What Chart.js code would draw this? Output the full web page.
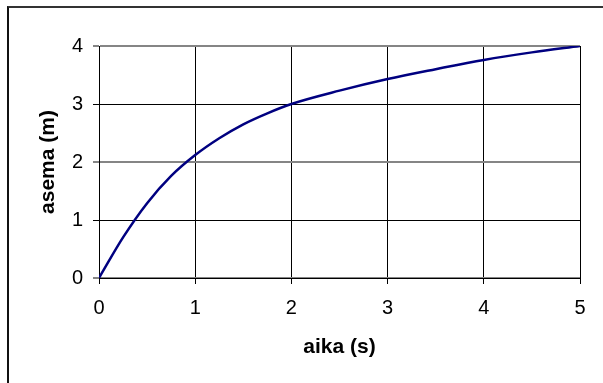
<!DOCTYPE html>
<html>
<head>
<meta charset="utf-8">
<script src="https://cdn.jsdelivr.net/npm/chart.js@4"></script>
<style>
  body { margin: 0; background: #fff; }
  #wrap { position: relative; width: 603px; height: 383px; overflow: hidden; }
  #kehys { position: absolute; left: 7px; top: 6px; width: 700px; height: 500px;
           border-left: 2px solid #111; border-top: 2px solid #333; }
  canvas { position: absolute; left: 0; top: 0; }
</style>
</head>
<body>
<div id="wrap">
  <div id="kehys"></div>
  <canvas id="kaavio" width="603" height="383"></canvas>
</div>
<script>
// aika (s) ja asema (m), luettu kuvasta
const aika = [0, 0.25, 0.5, 0.75, 1, 1.25, 1.5, 1.75, 2, 2.5, 3, 3.5, 4, 4.5, 5];
const asema = [0, 0.70, 1.29, 1.76, 2.12, 2.41, 2.65, 2.84, 3.0, 3.23, 3.43, 3.6, 3.76, 3.89, 4.0];

const xTicks = [0, 1, 2, 3, 4, 5];
const yTicks = [0, 1, 2, 3, 4];

const pisteet = aika.map((t, i) => ({ x: t, y: asema[i] }));

const fontti = { family: "'Liberation Sans', Arial, sans-serif", size: 20 };
const otsikkoFontti = { family: "'Liberation Sans', Arial, sans-serif", size: 21, weight: 'bold' };

new Chart(document.getElementById('kaavio'), {
  type: 'line',
  data: {
    datasets: [{
      data: pisteet,
      borderColor: '#000080',
      borderWidth: 2.5,
      pointRadius: 0,
      cubicInterpolationMode: 'monotone',
      fill: false
    }]
  },
  options: {
    responsive: false,
    animation: false,
    layout: { padding: { left: 0, top: 46, right: 23, bottom: 0 } },
    plugins: { legend: { display: false }, tooltip: { enabled: false } },
    scales: {
      x: {
        type: 'linear',
        min: 0, max: 5,
        afterFit: s => { s.height = 105; },
        afterBuildTicks: s => { s.ticks = xTicks.map(v => ({ value: v })); },
        ticks: { color: '#000', font: fontti, padding: 12, maxRotation: 0 },
        grid: { color: '#000', lineWidth: 1, tickLength: 6 },
        border: { color: '#000' },
        title: {
          display: true, text: 'aika (s)', color: '#000',
          font: otsikkoFontti,
          padding: { top: 0, bottom: 23 }
        }
      },
      y: {
        min: 0, max: 4,
        afterFit: s => { s.width = 99; },
        afterBuildTicks: s => { s.ticks = yTicks.map(v => ({ value: v })); },
        ticks: { color: '#000', font: fontti, padding: 10 },
        grid: {
          color: c => (c.tick && c.tick.value % 2 === 0) ? '#858585' : '#000',
          lineWidth: c => (c.tick && c.tick.value % 2 === 0) ? 2 : 1,
          tickLength: 6
        },
        border: { color: '#000' },
        title: {
          display: true, text: 'asema (m)', color: '#000',
          font: otsikkoFontti,
          padding: { top: 36, bottom: 0 }
        }
      }
    }
  }
});
</script>
</body>
</html>
